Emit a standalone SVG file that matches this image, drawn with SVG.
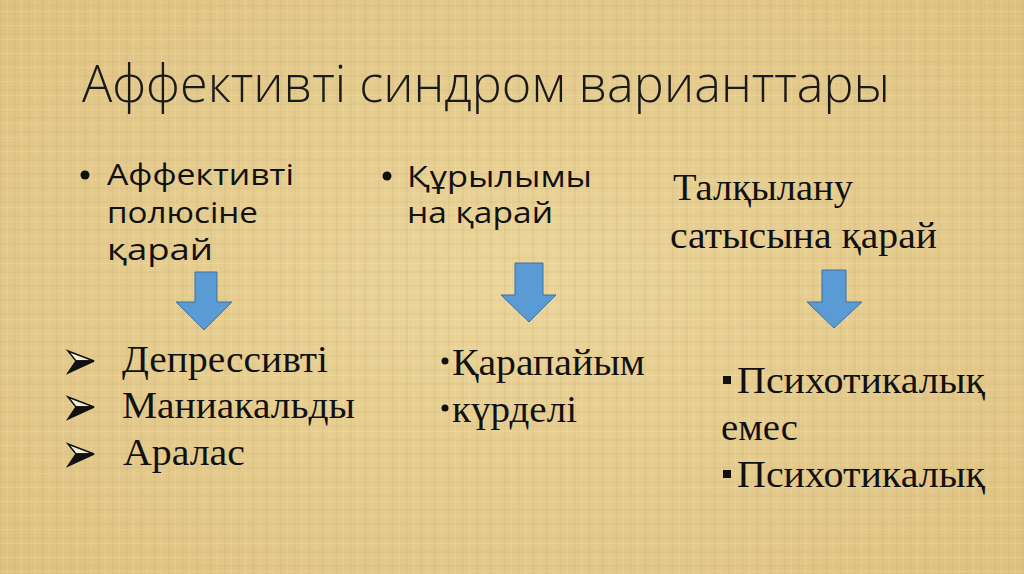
<svg xmlns="http://www.w3.org/2000/svg" width="1024" height="574" viewBox="0 0 1024 574">
  <defs>
    <radialGradient id="bg" cx="50%" cy="50%" r="70%">
      <stop offset="0" stop-color="#EBD59A"/>
      <stop offset="1" stop-color="#DEC283"/>
    </radialGradient>
    <pattern id="weave" width="14" height="14" patternUnits="userSpaceOnUse">
      <rect x="0" y="0" width="2" height="14" fill="#C9AE6E" opacity="0.18"/>
      <rect x="7" y="0" width="1" height="14" fill="#F5E6B8" opacity="0.25"/>
      <rect x="0" y="5" width="14" height="2" fill="#C9AE6E" opacity="0.15"/>
      <rect x="0" y="11" width="14" height="1" fill="#F5E6B8" opacity="0.22"/>
    </pattern>
    <style>
      .title { font-family: "Open Sans", "Liberation Sans", sans-serif; font-weight: 300; font-size: 51px; fill: #1a1a1a; }
      .head { font-family: "Open Sans", "Liberation Sans", sans-serif; font-size: 30px; fill: #111; }
      .item { font-family: "Liberation Serif", "Times New Roman", serif; font-size: 37px; fill: #111; }
      .arrow { fill: #5B9BD5; stroke: #41719C; stroke-width: 1; }
    </style>
  </defs>
  <rect x="0" y="0" width="1024" height="574" fill="url(#bg)"/>
  <rect x="0" y="0" width="1024" height="574" fill="url(#weave)"/>

  <g id="title">
    <text class="title" x="82" y="102" textLength="808" lengthAdjust="spacingAndGlyphs">Аффективті синдром варианттары</text>
  </g>

  <g id="col1-head">
    <circle cx="85" cy="175" r="4.5" fill="#111"/>
    <text class="head" x="107" y="185" textLength="187" lengthAdjust="spacingAndGlyphs">Аффективті</text>
    <text class="head" x="107" y="223" textLength="151" lengthAdjust="spacingAndGlyphs">полюсіне</text>
    <text class="head" x="107" y="260" textLength="106" lengthAdjust="spacingAndGlyphs">қарай</text>
  </g>

  <g id="col2-head">
    <circle cx="387" cy="176" r="4.5" fill="#111"/>
    <text class="head" x="407" y="187" textLength="185" lengthAdjust="spacingAndGlyphs">Құрылымы</text>
    <text class="head" x="407" y="223" textLength="146" lengthAdjust="spacingAndGlyphs">на қарай</text>
  </g>

  <g id="col3-head">
    <text class="item" x="673" y="200" textLength="180" lengthAdjust="spacingAndGlyphs">Талқылану</text>
    <text class="item" x="670" y="248" textLength="267" lengthAdjust="spacingAndGlyphs">сатысына қарай</text>
  </g>

  <g id="connectors">
    <polygon class="arrow" points="195,272 217,272 217,302 232,302 204,330 176,302 195,302"/>
    <polygon class="arrow" points="515,263 543,263 543,295 556,295 529,322 501,295 515,295"/>
    <polygon class="arrow" points="822,270 846,270 846,302 862,302 834,328 807,302 822,302"/>
  </g>

  <g id="col1-list">
    <g id="b1">
      <polygon points="68,351 94,361 76,361" fill="#f4ecd0" stroke="#111" stroke-width="1.5"/>
      <polygon points="94,361 68,373 76,361" fill="#111" stroke="#111" stroke-width="1.5"/>
    </g>
    <g id="b2">
      <polygon points="68,397 94,407 76,407" fill="#f4ecd0" stroke="#111" stroke-width="1.5"/>
      <polygon points="94,407 68,419 76,407" fill="#111" stroke="#111" stroke-width="1.5"/>
    </g>
    <g id="b3">
      <polygon points="68,444 94,454 76,454" fill="#f4ecd0" stroke="#111" stroke-width="1.5"/>
      <polygon points="94,454 68,466 76,454" fill="#111" stroke="#111" stroke-width="1.5"/>
    </g>
    <text class="item" x="122" y="372" textLength="206" lengthAdjust="spacingAndGlyphs">Депрессивті</text>
    <text class="item" x="122" y="418" textLength="233" lengthAdjust="spacingAndGlyphs">Маниакальды</text>
    <text class="item" x="123" y="465" textLength="122" lengthAdjust="spacingAndGlyphs">Аралас</text>
  </g>

  <g id="col2-list">
    <circle cx="445" cy="361" r="3.5" fill="#111"/>
    <text class="item" x="452" y="375" textLength="193" lengthAdjust="spacingAndGlyphs">Қарапайым</text>
    <circle cx="445" cy="408" r="3.5" fill="#111"/>
    <text class="item" x="452" y="422" textLength="125" lengthAdjust="spacingAndGlyphs">күрделі</text>
  </g>

  <g id="col3-list">
    <rect x="723" y="376" width="8" height="8" fill="#111"/>
    <text class="item" x="737" y="393" textLength="248" lengthAdjust="spacingAndGlyphs">Психотикалық</text>
    <text class="item" x="721" y="440" textLength="77" lengthAdjust="spacingAndGlyphs">емес</text>
    <rect x="723" y="470" width="8" height="8" fill="#111"/>
    <text class="item" x="737" y="487" textLength="248" lengthAdjust="spacingAndGlyphs">Психотикалық</text>
  </g>
</svg>
